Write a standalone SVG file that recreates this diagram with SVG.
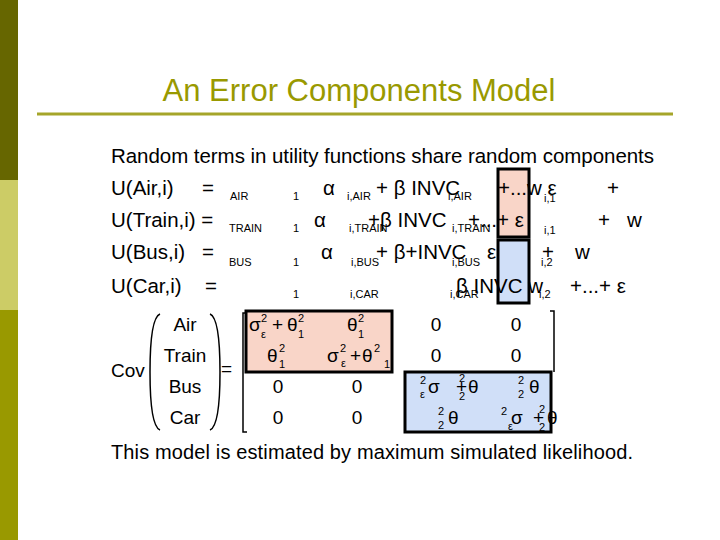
<svg xmlns="http://www.w3.org/2000/svg" width="720" height="540" viewBox="0 0 720 540">
<style>
.t{font-family:"Liberation Sans",Arial,sans-serif;fill:#000}
.b{font-size:20.5px}
.s{font-size:11px}
.m{font-size:19px}
.bx{stroke:#000;stroke-width:3}
</style>
<rect width="720" height="540" fill="#fff"/>
<rect x="0" y="0" width="18" height="180" fill="#666600"/>
<rect x="0" y="180" width="18" height="130" fill="#cccc66"/>
<rect x="0" y="310" width="18" height="230" fill="#999900"/>
<text x="359" y="101" text-anchor="middle" font-family="Liberation Sans,Arial,sans-serif" font-size="31" fill="#999900">An Error Components Model</text>
<line x1="37" y1="114" x2="673" y2="114" stroke="#a5a52a" stroke-width="3"/>
<rect class="bx" x="498" y="169" width="31" height="68" fill="#f9d5c8"/>
<rect class="bx" x="498" y="240" width="31" height="63" fill="#d0dff8"/>
<text class="t b" x="111" y="163" textLength="543">Random terms in utility functions share random components</text>
<g class="t b">
<text x="111" y="195">U(Air,i)</text><text x="202" y="195">=</text>
<text x="111" y="227">U(Train,i) =</text>
<text x="111" y="259">U(Bus,i)</text><text x="202" y="259">=</text>
<text x="111" y="293">U(Car,i)</text><text x="205" y="293">=</text>
<text x="323" y="195">α</text><text x="376" y="195">+ β INVC</text><text x="498" y="195">+...w ε</text><text x="607" y="195">+</text>
<text x="314" y="227">α</text><text x="368" y="227">+β INVC</text><text x="468" y="227">+...+ ε</text><text x="598" y="227">+</text><text x="627" y="227">w</text>
<text x="321" y="259">α</text><text x="376" y="259">+ β+INVC</text><text x="487" y="259">ε</text><text x="542" y="259">+</text><text x="575" y="259">w</text>
<text x="456" y="293">β INVC w</text><text x="570" y="293">+...+ ε</text>
</g>
<g class="t s">
<text x="230" y="200">AIR</text><text x="293" y="200">1</text><text x="347" y="200">i,AIR</text><text x="448" y="200">i,AIR</text><text x="544" y="202">i,1</text>
<text x="229" y="232">TRAIN</text><text x="293" y="232">1</text><text x="349" y="232">i,TRAIN</text><text x="452" y="232">i,TRAIN</text><text x="544" y="234">i,1</text>
<text x="229" y="266">BUS</text><text x="293" y="266">1</text><text x="351" y="266">i,BUS</text><text x="452" y="266">i,BUS</text><text x="541" y="266">i,2</text>
<text x="293" y="298">1</text><text x="350" y="298">i,CAR</text><text x="450" y="298">i,CAR</text><text x="539" y="298">i,2</text>
</g>
<rect class="bx" x="246" y="311" width="146" height="61" fill="#f9d5c8"/>
<rect class="bx" x="405" y="372" width="146" height="60" fill="#d0dff8"/>
<g fill="none" stroke="#000" stroke-width="1.5">
<path d="M160 314 Q150 318 150 372 Q150 426 160 430"/>
<path d="M210 314 Q220 318 220 372 Q220 426 210 430"/>
<path d="M247 313 L243 313 L243 432 L247 432"/>
<path d="M550 311 L554 311 L554 372"/>
</g>
<g class="t m">
<text x="111" y="377">Cov</text><text x="221" y="375">=</text>
<text x="185" y="331" text-anchor="middle">Air</text>
<text x="185" y="362" text-anchor="middle">Train</text>
<text x="185" y="393" text-anchor="middle">Bus</text>
<text x="185" y="424" text-anchor="middle">Car</text>
<text x="249" y="331">σ</text><text x="272" y="331">+</text><text x="287" y="331">θ</text>
<text x="347" y="331">θ</text><text x="436" y="331" text-anchor="middle">0</text><text x="516" y="331" text-anchor="middle">0</text>
<text x="267" y="362">θ</text><text x="327" y="362">σ</text><text x="350" y="362">+</text><text x="362" y="362">θ</text>
<text x="436" y="362" text-anchor="middle">0</text><text x="516" y="362" text-anchor="middle">0</text>
<text x="278" y="393" text-anchor="middle">0</text><text x="357" y="393" text-anchor="middle">0</text>
<text x="428" y="393">σ</text><text x="456" y="393">+</text><text x="468" y="393">θ</text><text x="529" y="393">θ</text>
<text x="278" y="424" text-anchor="middle">0</text><text x="357" y="424" text-anchor="middle">0</text>
<text x="448" y="424">θ</text><text x="511" y="424">σ</text><text x="533" y="424">+</text><text x="547" y="424">θ</text>
</g>
<g class="t s">
<text x="261" y="322">2</text><text x="261" y="338">ε</text><text x="298" y="322">2</text><text x="298" y="338">1</text><text x="358" y="322">2</text><text x="358" y="338">1</text>
<text x="279" y="352">2</text><text x="279" y="368">1</text><text x="340" y="352">2</text><text x="341" y="367">ε</text><text x="374" y="352">2</text><text x="384" y="368">1</text>
<text x="420" y="384">2</text><text x="420" y="398">ε</text><text x="459" y="382">2</text><text x="459" y="400">2</text><text x="518" y="384">2</text><text x="518" y="398">2</text>
<text x="438" y="415">2</text><text x="438" y="429">2</text><text x="501" y="415">2</text><text x="508" y="430">ε</text><text x="539" y="413">2</text><text x="539" y="431">2</text>
</g>
<text class="t" font-size="20" x="111" y="459" textLength="522">This model is estimated by maximum simulated likelihood.</text>
</svg>
